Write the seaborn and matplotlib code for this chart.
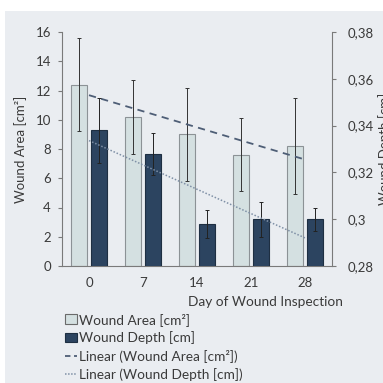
import numpy as np
import matplotlib
matplotlib.use('Agg')
import matplotlib.pyplot as plt
from matplotlib.patches import Patch, Rectangle
from matplotlib.lines import Line2D
import seaborn as sns

# Data
days = ['0', '7', '14', '21', '28']
area = [12.4, 10.2, 9.0, 7.6, 8.2]
area_err = [3.2, 2.55, 3.2, 2.5, 3.3]
depth = [0.338, 0.328, 0.298, 0.300, 0.300]
depth_err = [0.014, 0.009, 0.006, 0.0075, 0.005]
left_ticks = [0, 2, 4, 6, 8, 10, 12, 14, 16]
right_ticks = [0.28, 0.30, 0.32, 0.34, 0.36, 0.38]
right_labels = ['0,28', '0,3', '0,32', '0,34', '0,36', '0,38']

sns.set_theme(style='ticks')
plt.rcParams['font.family'] = ['Lato', 'DejaVu Sans']

light = '#d4e0e1'
dark = '#2c4460'
txt = '#3a3a3a'
spine = '#7a7a7a'

fig = plt.figure(figsize=(3.83, 3.83), dpi=100, facecolor='white')
fig.patches.append(Rectangle((5 / 383, 0), 1, 1 - 11 / 383, transform=fig.transFigure,
                             facecolor='#eaedf1', edgecolor='none', zorder=-10))

ax = fig.add_axes([62 / 383, 1 - 266 / 383, 270 / 383, 234 / 383])
ax.set_facecolor('none')
ax2 = ax.twinx()

x = np.arange(len(days))
w = 0.30
off = 0.185

ax.bar(x - off, area, width=w, color=light, edgecolor='#8c9296', linewidth=0.8, zorder=2)
ax.errorbar(x - off, area, yerr=area_err, fmt='none', ecolor='#333333',
            elinewidth=0.7, capsize=1.5, capthick=0.7, zorder=3)
ax2.bar(x + off, depth, width=w, color=dark, edgecolor='#1e2f42', linewidth=0.8, zorder=2)
ax2.errorbar(x + off, depth, yerr=depth_err, fmt='none', ecolor='#222222',
             elinewidth=0.7, capsize=1.5, capthick=0.7, zorder=3)

# linear trend lines
sns.regplot(x=x, y=area, ax=ax, scatter=False, ci=None, truncate=True,
            line_kws=dict(color='#4e5e76', linestyle=(0, (4, 3)), linewidth=1.3, zorder=4))
sns.regplot(x=x, y=depth, ax=ax2, scatter=False, ci=None, truncate=True,
            line_kws=dict(color='#7f90a6', linestyle=(0, (1, 1.2)), linewidth=1.1, zorder=4))

ax.set_xlim(-0.5, 4.5)
ax.set_ylim(0, 16)
ax.set_yticks(left_ticks)
ax2.set_ylim(0.28, 0.38)
ax2.set_yticks(right_ticks)
ax2.set_yticklabels(right_labels)
ax.set_xticks(x)
ax.set_xticklabels(days)

for a in (ax, ax2):
    for s in a.spines.values():
        s.set_color(spine)
        s.set_linewidth(0.8)
    a.spines['top'].set_visible(False)
    a.tick_params(colors=spine, labelcolor=txt, labelsize=9.5, width=0.8, length=3)
ax.spines['right'].set_visible(False)
ax2.spines['left'].set_visible(False)
ax2.spines['bottom'].set_visible(False)
ax.tick_params(axis='y', pad=5)
ax2.tick_params(axis='y', pad=8)
ax.tick_params(axis='x', length=0, pad=8)

ax.set_ylabel('Wound Area [cm²]', fontsize=9.5, color=txt, labelpad=6)
ax2.set_ylabel('Wound Depth [cm]', fontsize=9.5, color=txt)
ax2.yaxis.set_label_coords(1.17, 0.5)
ax.set_xlabel('Day of Wound Inspection', fontsize=9.8, color=txt, loc='right')
ax.xaxis.set_label_coords(1.04, -0.13)

handles = [Patch(facecolor=light, edgecolor='#6a6a6a', linewidth=0.8),
           Patch(facecolor=dark, edgecolor='#1e2f42', linewidth=0.8),
           Line2D([], [], color='#4e5e76', linestyle=(0, (3, 2)), linewidth=1.3),
           Line2D([], [], color='#7f90a6', linestyle=(0, (1, 1)), linewidth=1.1)]
labels = ['Wound Area [cm²]', 'Wound Depth [cm]',
          'Linear (Wound Area [cm²])', 'Linear (Wound Depth [cm])']
fig.legend(handles, labels, loc='upper left', bbox_to_anchor=(58 / 383, 1 - 306 / 383),
           frameon=False, fontsize=9.8, handlelength=0.9, handleheight=0.7,
           handletextpad=0.15, labelspacing=0.40, borderpad=0, labelcolor=txt)

fig.savefig('out.png', dpi=100)
